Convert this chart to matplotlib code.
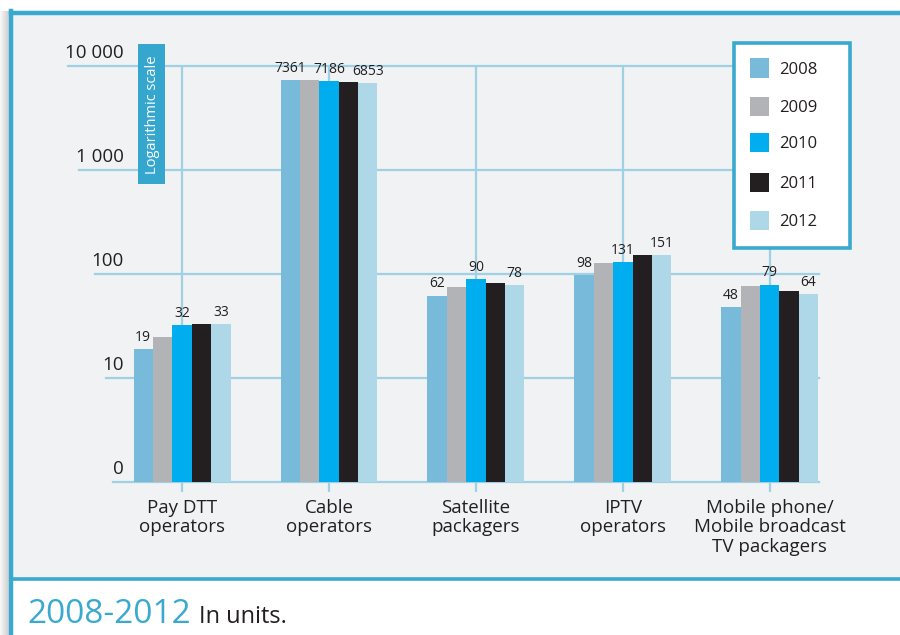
import matplotlib
matplotlib.use("Agg")
import matplotlib.pyplot as plt
import matplotlib.transforms as mtransforms
from matplotlib.patches import Rectangle
from matplotlib.lines import Line2D
import numpy as np

plt.rcParams['font.family'] = ['Open Sans', 'DejaVu Sans']

categories = ["Pay DTT\noperators", "Cable\noperators", "Satellite\npackagers",
              "IPTV\noperators", "Mobile phone/\nMobile broadcast\nTV packagers"]
years = ["2008", "2009", "2010", "2011", "2012"]
v2008 = [19, 7361, 62, 98, 48]
v2009 = [25, 7330, 75, 127, 76]
v2010 = [32, 7186, 90, 131, 79]
v2011 = [33, 7020, 82, 151, 69]
v2012 = [33, 6853, 78, 151, 64]
series = [v2008, v2009, v2010, v2011, v2012]
labelled = [True, False, True, False, True]
yticks = [1, 10, 100, 1000, 10000]
ytick_labels = ["0", "10", "100", "1 000", "10 000"]

colors = ["#78bada", "#b1b3b6", "#00aeef", "#231f20", "#aed7e8"]
grid_c = "#9fd0e4"
frame_c = "#3aa9d0"
text_c = "#231f20"
panel_c = "#f0f2f4"

W, H = 900, 635
fig = plt.figure(figsize=(9, 6.35), dpi=100)
fig.patch.set_facecolor("white")

def fx(px):
    return px / W

def fy(py):
    return 1 - py / H

# left shadow
for i in range(10):
    g = 0.97 - 0.02 * (i if i < 7 else 14 - i)
    fig.patches.append(Rectangle((fx(i), 0), fx(1), fy(11), transform=fig.transFigure,
                                 facecolor=(g, g, g), edgecolor="none", zorder=-2))
# panel
fig.patches.append(Rectangle((fx(10), fy(578)), fx(890), fy(13) - fy(578),
                             transform=fig.transFigure, facecolor=panel_c,
                             edgecolor="none", zorder=-2))
fig.add_artist(Line2D([fx(10.5), 1], [fy(12.5), fy(12.5)], transform=fig.transFigure,
                      color=frame_c, lw=3.2, zorder=-1))
fig.add_artist(Line2D([fx(10.5), fx(10.5)], [0, fy(11)], transform=fig.transFigure,
                      color=frame_c, lw=3.2, zorder=-1))
fig.add_artist(Line2D([fx(10.5), 1], [fy(578.5), fy(578.5)], transform=fig.transFigure,
                      color=frame_c, lw=2.6, zorder=-1))

# axes
ax = fig.add_axes([fx(113), fy(482), fx(819) - fx(113), fy(66) - fy(482)])
ax.set_facecolor("none")
ax.set_yscale("log")
ax.set_ylim(1, 10000)

n = len(series)
bw = 0.132
x = np.arange(len(categories))
for i, vals in enumerate(series):
    pos = x + (i - (n - 1) / 2) * bw
    bars = ax.bar(pos, vals, width=bw, color=colors[i], zorder=3, label=years[i])
    if labelled[i]:
        for b, v in zip(bars, vals):
            ax.annotate(str(v), (b.get_x() + b.get_width() / 2, v),
                        xytext=(0, 3), textcoords="offset points",
                        ha="center", va="bottom", fontsize=10, color=text_c, zorder=4)

ax.set_xlim(-0.47, len(categories) - 1 + 2.5 * bw + 0.005)
ax.set_xticks(x)
ax.set_xticklabels(categories, fontsize=13.5, color=text_c, linespacing=1.12)
ax.tick_params(axis="x", length=7, width=1.6, color=grid_c, pad=5)
ax.set_yticks([])
ax.yaxis.set_minor_locator(matplotlib.ticker.NullLocator())
ax.tick_params(axis="y", which="both", left=False, labelleft=False)
for s in ax.spines.values():
    s.set_visible(False)
ax.grid(axis="x", color=grid_c, lw=1.6, zorder=1)
ax.set_axisbelow(True)

# y labels above lines
tr = mtransforms.blended_transform_factory(fig.transFigure, ax.transData)
tr_off = mtransforms.offset_copy(tr, fig=fig, x=0, y=4, units="dots")
ylabs = []
for t, lab in zip(yticks, ytick_labels):
    ylabs.append(ax.text(fx(124), t, lab, transform=tr_off, ha="right", va="bottom",
                         fontsize=13.5, color=text_c, clip_on=False))

fig.canvas.draw()
r = fig.canvas.get_renderer()
ax_bb = ax.get_window_extent(r)
for t, tl in zip(yticks, ylabs):
    bb = tl.get_window_extent(r)
    x0 = ax_bb.x0 if t == 1 else bb.x0 + 3
    ln = Line2D([x0 / fig.bbox.width, ax_bb.x1 / fig.bbox.width], [t, t],
                transform=tr, color=grid_c, lw=1.6, zorder=1.5, clip_on=False)
    ax.add_artist(ln)

# logarithmic scale tag
fig.patches.append(Rectangle((fx(138), fy(184)), fx(27), fy(44) - fy(184),
                             transform=fig.transFigure, facecolor="#35a7cf",
                             edgecolor="none", zorder=5))
fig.text(fx(152), fy(114.5), "Logarithmic scale", rotation=90, ha="center", va="center",
         color="white", fontsize=10.5, zorder=6)

# legend (manual box)
fig.patches.append(Rectangle((fx(733.5), fy(248)), fx(116), fy(43) - fy(248),
                             transform=fig.transFigure, facecolor="white",
                             edgecolor=frame_c, lw=2.6, zorder=7))
row_y = [68, 106, 142, 182, 220]
for i, yr in enumerate(years):
    fig.patches.append(Rectangle((fx(750), fy(row_y[i] + 9.5)), fx(19), fy(0) - fy(19),
                                 transform=fig.transFigure, facecolor=colors[i],
                                 edgecolor="none", zorder=8))
    fig.text(fx(779), fy(row_y[i]), yr, ha="left", va="center_baseline",
             fontsize=12, color=text_c, zorder=8)

# footer
fig.text(fx(27), fy(623), "2008-2012", fontsize=24, color=frame_c,
         ha="left", va="baseline")
fig.text(fx(199), fy(623), "In units.", fontsize=17, color=text_c,
         ha="left", va="baseline")

fig.savefig("out.png", dpi=100, facecolor=fig.get_facecolor())
